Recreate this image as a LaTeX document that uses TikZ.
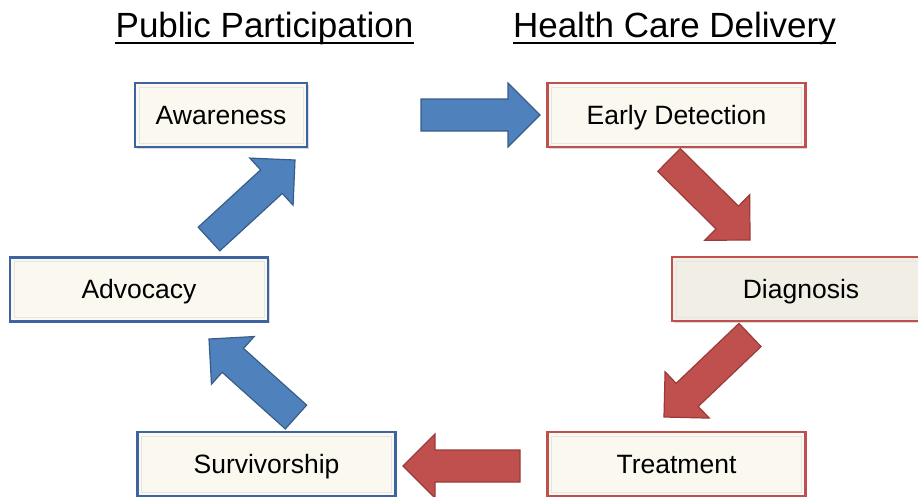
\documentclass[tikz,border=0pt]{standalone}
\usepackage{fontspec}
\setmainfont{Liberation Sans}
\usetikzlibrary{calc,shadows}

\definecolor{boxblue}{HTML}{3D64A0}
\definecolor{boxred}{HTML}{C0504D}
\definecolor{cream}{HTML}{FBF9EF}
\definecolor{creamgray}{HTML}{F0EEE5}
\definecolor{arrowblue}{HTML}{4F81BD}
\definecolor{arrowblueline}{HTML}{385D8A}
\definecolor{arrowred}{HTML}{C0504D}
\definecolor{arrowredline}{HTML}{9A3B38}

\begin{document}
\begin{tikzpicture}[
    x=1pt, y=-1pt,
    every node/.style={font=\fontsize{26.5}{30}\selectfont},
    stage/.style={rectangle, minimum height=64pt, inner sep=0pt, line width=2.4pt, fill=cream,
        text height=19pt, text depth=1pt,
        drop shadow={shadow xshift=1.5pt, shadow yshift=-1.5pt, opacity=0.3},
        path picture={\draw[black!10, line width=1pt]
            ([shift={(4pt,-4pt)}]path picture bounding box.north west) rectangle
            ([shift={(-4pt,4pt)}]path picture bounding box.south east);}},
    public/.style={stage, draw=boxblue},
    care/.style={stage, draw=boxred},
    title/.style={font=\fontsize{35}{40}\selectfont, inner sep=0pt, anchor=base},
    blockarrow/.style={line width=1.2pt, line join=miter, to path={
        ($(\tikztostart)!16pt!90:(\tikztotarget)$) --
        ($(\tikztotarget)!32pt!(\tikztostart)!16pt!-90:(\tikztostart)$) --
        ($(\tikztotarget)!32pt!(\tikztostart)!32pt!-90:(\tikztostart)$) --
        (\tikztotarget) --
        ($(\tikztotarget)!32pt!(\tikztostart)!32pt!90:(\tikztostart)$) --
        ($(\tikztotarget)!32pt!(\tikztostart)!16pt!90:(\tikztostart)$) --
        ($(\tikztostart)!16pt!-90:(\tikztotarget)$) -- cycle}},
    bluearrow/.style={blockarrow, fill=arrowblue, draw=arrowblueline},
    redarrow/.style={blockarrow, fill=arrowred, draw=arrowredline}
]
\clip (0,0) rectangle (918,496);

% Titles
\node[title] (public) at (264.5,37) {Public Participation};
\node[title] (care) at (674.5,37) {Health Care Delivery};
\draw[line width=2pt] ([yshift=-6pt]public.base west) -- ([yshift=-6pt]public.base east);
\draw[line width=2pt] ([yshift=-6pt]care.base west) -- ([yshift=-6pt]care.base east);

% Public participation
\node[public, minimum width=172pt] (aware) at (221,115) {Awareness};
\node[public, minimum width=258pt] (advo) at (139,289.5) {Advocacy};
\node[public, minimum width=258pt] (surv) at (266.5,464) {Survivorship};

% Health care delivery
\node[care, minimum width=258pt] (early) at (676.5,115) {Early Detection};
\node[care, minimum width=258pt, fill=creamgray] (diag) at (801,289) {Diagnosis};
\node[care, minimum width=258pt] (treat) at (676.5,464) {Treatment};

% Arrow ends
\coordinate (aw-out) at (421,115);
\coordinate (ed-in) at (540,115);
\coordinate (ed-out) at (669,160);
\coordinate (dg-in) at (750,240);
\coordinate (dg-out) at (750,335);
\coordinate (tr-in) at (664,417);
\coordinate (tr-out) at (520,466);
\coordinate (sv-in) at (403,466);
\coordinate (sv-out) at (296,417);
\coordinate (ad-in) at (209,339);
\coordinate (ad-out) at (209,239);
\coordinate (aw-in) at (295,160);

% Arrows
\draw[bluearrow] (aw-out) to (ed-in);
\draw[redarrow] (ed-out) to (dg-in);
\draw[redarrow] (dg-out) to (tr-in);
\draw[redarrow] (tr-out) to (sv-in);
\draw[bluearrow] (sv-out) to (ad-in);
\draw[bluearrow] (ad-out) to (aw-in);
\end{tikzpicture}
\end{document}
